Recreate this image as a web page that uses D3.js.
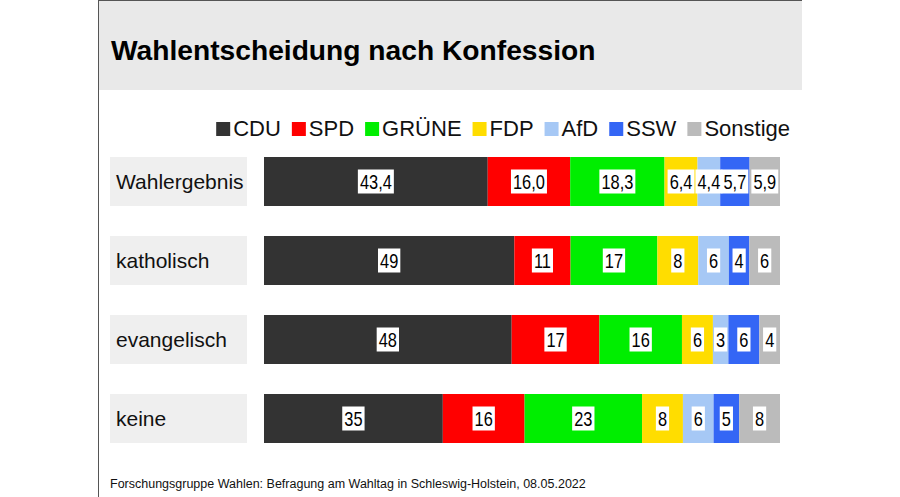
<!DOCTYPE html>
<html>
<head>
<meta charset="utf-8">
<script src="https://cdn.jsdelivr.net/npm/d3@7"></script>
<style>
  body { margin: 0; background: #fff; }
  svg { display: block; font-family: "Liberation Sans", Arial, sans-serif; }
</style>
</head>
<body>
<div id="chart"></div>
<script>
// data
var groups = ['Wahlergebnis', 'katholisch', 'evangelisch', 'keine'];
var parties = ['CDU', 'SPD', 'GRÜNE', 'FDP', 'AfD', 'SSW', 'Sonstige'];
var colors = ['#333333', '#ff0000', '#00ee00', '#ffdd00', '#a6c8f5', '#3466f5', '#bbbbbb'];
var wahlergebnis = [43.4, 16.0, 18.3, 6.4, 4.4, 5.7, 5.9];
var katholisch = [49, 11, 17, 8, 6, 4, 6];
var evangelisch = [48, 17, 16, 6, 3, 6, 4];
var keine = [35, 16, 23, 8, 6, 5, 8];
var rows = [wahlergebnis, katholisch, evangelisch, keine];
var decimals = [1, 0, 0, 0];

var width = 900, height = 497;

var svg = d3.select('#chart').append('svg')
    .attr('width', width)
    .attr('height', height);

// card + header
svg.append('rect').attr('x', 99).attr('y', 0).attr('width', 703).attr('height', 90).attr('fill', '#e9e9e9');
svg.append('line').attr('x1', 98.5).attr('x2', 98.5).attr('y1', 0).attr('y2', height)
    .attr('stroke', '#555').attr('stroke-width', 1);
svg.append('line').attr('x1', 98).attr('x2', 802).attr('y1', 0.5).attr('y2', 0.5)
    .attr('stroke', '#555').attr('stroke-width', 1);

svg.append('text')
    .attr('x', 111).attr('y', 60)
    .attr('font-size', 28.2).attr('font-weight', 'bold')
    .attr('fill', '#000')
    .text('Wahlentscheidung nach Konfession');

// scales
var y = d3.scaleBand().domain(groups).range([157, 443]).paddingInner(30 / 79).paddingOuter(0);
var x = d3.scaleLinear().domain([0, 100]).range([264, 780]);

// legend
var legend = svg.append('g');
var lx = 0;
parties.forEach(function(p, i) {
    var g = legend.append('g').attr('transform', 'translate(' + lx + ',0)');
    g.append('rect').attr('x', 0).attr('y', -6).attr('width', 14).attr('height', 14).attr('fill', colors[i]);
    var t = g.append('text').attr('x', 17).attr('y', 8)
        .attr('font-size', 22).attr('fill', '#111').text(p);
    lx += 17 + t.node().getComputedTextLength() + 11;
});
legend.attr('transform', 'translate(' + (790 - (lx - 11)) + ',128)');

// rows
groups.forEach(function(grp, r) {
    var vals = rows[r];
    var total = d3.sum(vals);
    var yy = y(grp), bh = y.bandwidth();

    svg.append('rect')
        .attr('x', 110).attr('y', yy).attr('width', 137).attr('height', bh)
        .attr('fill', '#efefef');
    svg.append('text')
        .attr('x', 116).attr('y', yy + bh / 2 + 7)
        .attr('font-size', 21).attr('fill', '#111')
        .text(grp);

    var cum = 0;
    var segs = vals.map(function(v, i) {
        var s = { v: v, x0: cum / total * 100, x1: (cum + v) / total * 100, i: i };
        cum += v;
        return s;
    });

    var g = svg.append('g');
    g.selectAll('rect.seg').data(segs).enter().append('rect')
        .attr('class', 'seg')
        .attr('x', function(d) { return x(d.x0); })
        .attr('y', yy)
        .attr('width', function(d) { return x(d.x1) - x(d.x0); })
        .attr('height', bh)
        .attr('fill', function(d) { return colors[d.i]; });

    var fmt = function(v) { return v.toFixed(decimals[r]).replace('.', ','); };

    var lab = g.selectAll('g.lab').data(segs).enter().append('g')
        .attr('class', 'lab')
        .attr('transform', function(d) {
            return 'translate(' + ((x(d.x0) + x(d.x1)) / 2) + ',' + (yy + bh / 2) + ') scale(0.82,1)';
        });
    var bg = lab.append('rect').attr('fill', '#fff');
    var txt = lab.append('text')
        .attr('text-anchor', 'middle')
        .attr('y', 7)
        .attr('font-size', 20)
        .attr('fill', '#000')
        .text(function(d) { return fmt(d.v); });
    txt.each(function(d, i) {
        var w = this.getComputedTextLength();
        d3.select(bg.nodes()[i])
            .attr('x', -w / 2 - 2.5).attr('y', -12)
            .attr('width', w + 5).attr('height', 24);
    });
});

svg.append('text')
    .attr('x', 110).attr('y', 488)
    .attr('font-size', 12.5)
    .attr('fill', '#111')
    .text('Forschungsgruppe Wahlen: Befragung am Wahltag in Schleswig-Holstein, 08.05.2022');
</script>
</body>
</html>
